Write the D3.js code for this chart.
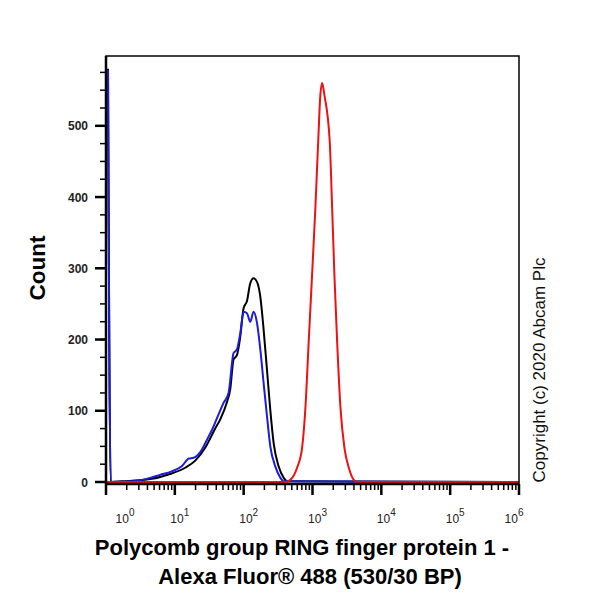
<!DOCTYPE html>
<html>
    <head>
        <meta charset="utf-8">
        <script src="https://d3js.org/d3.v7.min.js"></script>
        <style>
            body { margin: 0; background: #fff; }
            text { font-family: Arial, "Liberation Sans", sans-serif; }
        </style>
    </head>
    <body>
        <div id="my_dataviz"></div>
        <script>
            // fluorescence intensity (x) and counts (y)
            const blackX = [1.07, 1.17, 1.7, 3.7, 9.0, 14.1, 19.8, 27.6, 38.6, 45.7, 57.1, 63.8, 71.3, 79.8, 89.3, 99.7, 111.7, 124.7, 139.4, 156.3, 174.6, 194.9, 218.3, 243.8, 272.3, 322, 381, 427, 1e6]
            const blackY = [580, 0, 1, 3, 12, 20, 30, 48, 75, 88, 112, 130, 172, 178, 204, 244, 254, 279, 286, 281, 260, 214, 157, 101, 55, 22, 6, 1, 0]

            const blueX = [1.07, 1.17, 2.5, 4.1, 6.1, 9.0, 12.6, 16.0, 18.7, 23.4, 29.2, 34.6, 43.2, 51.0, 60.3, 71.3, 79.8, 89.3, 99.7, 111.7, 124.7, 139.4, 156.3, 174.6, 194.9, 218.3, 243.8, 288, 341, 381, 1e6]
            const blueY = [578, 0, 1, 5, 10, 15, 22, 33, 34, 42, 59, 73, 95, 111, 125, 181, 186, 209, 239, 237, 225, 239, 223, 186, 139, 92, 50, 22, 6, 1, 0]

            const redX = [1, 400, 476, 597, 706, 789, 881, 986, 1100, 1210, 1300, 1380, 1490, 1780, 1930, 2080, 2280, 2550, 2910, 3370, 3980, 4500, 1e6]
            const redY = [0, 0, 3, 20, 48, 104, 197, 291, 384, 478, 543, 560, 543, 478, 384, 291, 197, 104, 48, 20, 3, 0, 0]

            const xMajor = [1, 10, 100, 1000, 10000, 100000, 1000000]
            const xLabelExp = ["0", "1", "2", "3", "4", "5", "6"]
            const yMajor = [0, 100, 200, 300, 400, 500]

            const width = 600, height = 600
            const plot = {left: 106, right: 519, top: 56, bottom: 484}

            const svg = d3.select("#my_dataviz")
                .append("svg")
                    .attr("width", width)
                    .attr("height", height)

            const x = d3.scaleLog()
                .domain([1, 1e6])
                .range([plot.left, plot.right])

            const y = d3.scaleLinear()
                .domain([0, 598])
                .range([482, plot.top])

            svg.append("clipPath").attr("id", "clip")
                .append("rect")
                .attr("x", plot.left).attr("y", plot.top)
                .attr("width", plot.right - plot.left).attr("height", plot.bottom - plot.top)

            // curves
            const line = d3.line()
                .x(d => x(d[0]))
                .y(d => y(d[1]))
                .curve(d3.curveMonotoneX)

            const series = [
                {xs: blackX, ys: blackY, color: "#000000"},
                {xs: blueX, ys: blueY, color: "#1c1cdc"},
                {xs: redX, ys: redY, color: "#ee1111"}
            ]
            svg.append("g")
                .attr("clip-path", "url(#clip)")
                .selectAll("path")
                .data(series)
                .join("path")
                .attr("d", s => line(s.xs.map((v, i) => [v, s.ys[i]])))
                .attr("fill", "none")
                .attr("stroke", s => s.color)
                .attr("stroke-width", 2)
                .attr("stroke-linejoin", "round")

            // frame
            svg.append("rect")
                .attr("x", plot.left).attr("y", plot.top)
                .attr("width", plot.right - plot.left).attr("height", plot.bottom - plot.top)
                .attr("fill", "none")
                .attr("stroke", "#000")
                .attr("stroke-width", 1.5)

            // y axis
            const yAxis = svg.append("g")
                .attr("transform", `translate(${plot.left},0)`)
            yAxis.append("line")
                .attr("y1", plot.top).attr("y2", plot.bottom)
                .attr("stroke", "#000").attr("stroke-width", 2.5)
            yAxis.selectAll(".minor")
                .data(d3.range(0, 576, 25))
                .join("line")
                .attr("x1", -6).attr("x2", 0)
                .attr("y1", d => y(d)).attr("y2", d => y(d))
                .attr("stroke", "#000").attr("stroke-width", 1.5)
            yAxis.selectAll(".major")
                .data(yMajor)
                .join("line")
                .attr("x1", -11).attr("x2", 0)
                .attr("y1", d => y(d)).attr("y2", d => y(d))
                .attr("stroke", "#000").attr("stroke-width", 2.5)
            yAxis.selectAll("text")
                .data(yMajor)
                .join("text")
                .attr("x", -18)
                .attr("y", d => y(d) + 4.5)
                .attr("text-anchor", "end")
                .attr("font-size", 12)
                .attr("font-weight", "bold")
                .attr("fill", "#222")
                .text(d => d)

            // x axis
            const xAxis = svg.append("g")
                .attr("transform", `translate(0,${plot.bottom})`)
            xAxis.append("line")
                .attr("x1", plot.left).attr("x2", plot.right)
                .attr("stroke", "#000").attr("stroke-width", 2.5)
            const minorX = []
            xMajor.slice(0, -1).forEach(d => { for (let k = 2; k < 10; k++) minorX.push(d * k) })
            xAxis.selectAll(".minor")
                .data(minorX)
                .join("line")
                .attr("x1", d => x(d)).attr("x2", d => x(d))
                .attr("y1", 0).attr("y2", 6)
                .attr("stroke", "#000").attr("stroke-width", 1.5)
            xAxis.selectAll(".major")
                .data(xMajor)
                .join("line")
                .attr("x1", d => x(d)).attr("x2", d => x(d))
                .attr("y1", 0).attr("y2", 11)
                .attr("stroke", "#000").attr("stroke-width", 2.5)
            const lab = xAxis.selectAll("text")
                .data(xMajor)
                .join("text")
                .attr("x", d => Math.min(Math.max(x(d) + 5, 125), 514))
                .attr("y", 39)
                .attr("text-anchor", "middle")
                .attr("font-size", 12)
                .attr("fill", "#222")
            lab.append("tspan").text("10")
            lab.append("tspan")
                .attr("dy", -7)
                .attr("font-size", 10)
                .text((d, i) => xLabelExp[i])

            // titles
            svg.append("text")
                .attr("transform", "translate(45,268) rotate(-90)")
                .attr("text-anchor", "middle")
                .attr("font-size", 22.5)
                .attr("font-weight", "bold")
                .text("Count")

            svg.append("text")
                .attr("x", 302).attr("y", 555)
                .attr("text-anchor", "middle")
                .attr("font-size", 22)
                .attr("font-weight", "bold")
                .text("Polycomb group RING finger protein 1 -")
            svg.append("text")
                .attr("x", 310).attr("y", 584)
                .attr("text-anchor", "middle")
                .attr("font-size", 22)
                .attr("font-weight", "bold")
                .text("Alexa Fluor® 488 (530/30 BP)")

            svg.append("text")
                .attr("transform", "translate(545,370) rotate(-90)")
                .attr("text-anchor", "middle")
                .attr("font-size", 17)
                .attr("fill", "#111")
                .text("Copyright (c) 2020 Abcam Plc")
        </script>
    </body>
</html>
